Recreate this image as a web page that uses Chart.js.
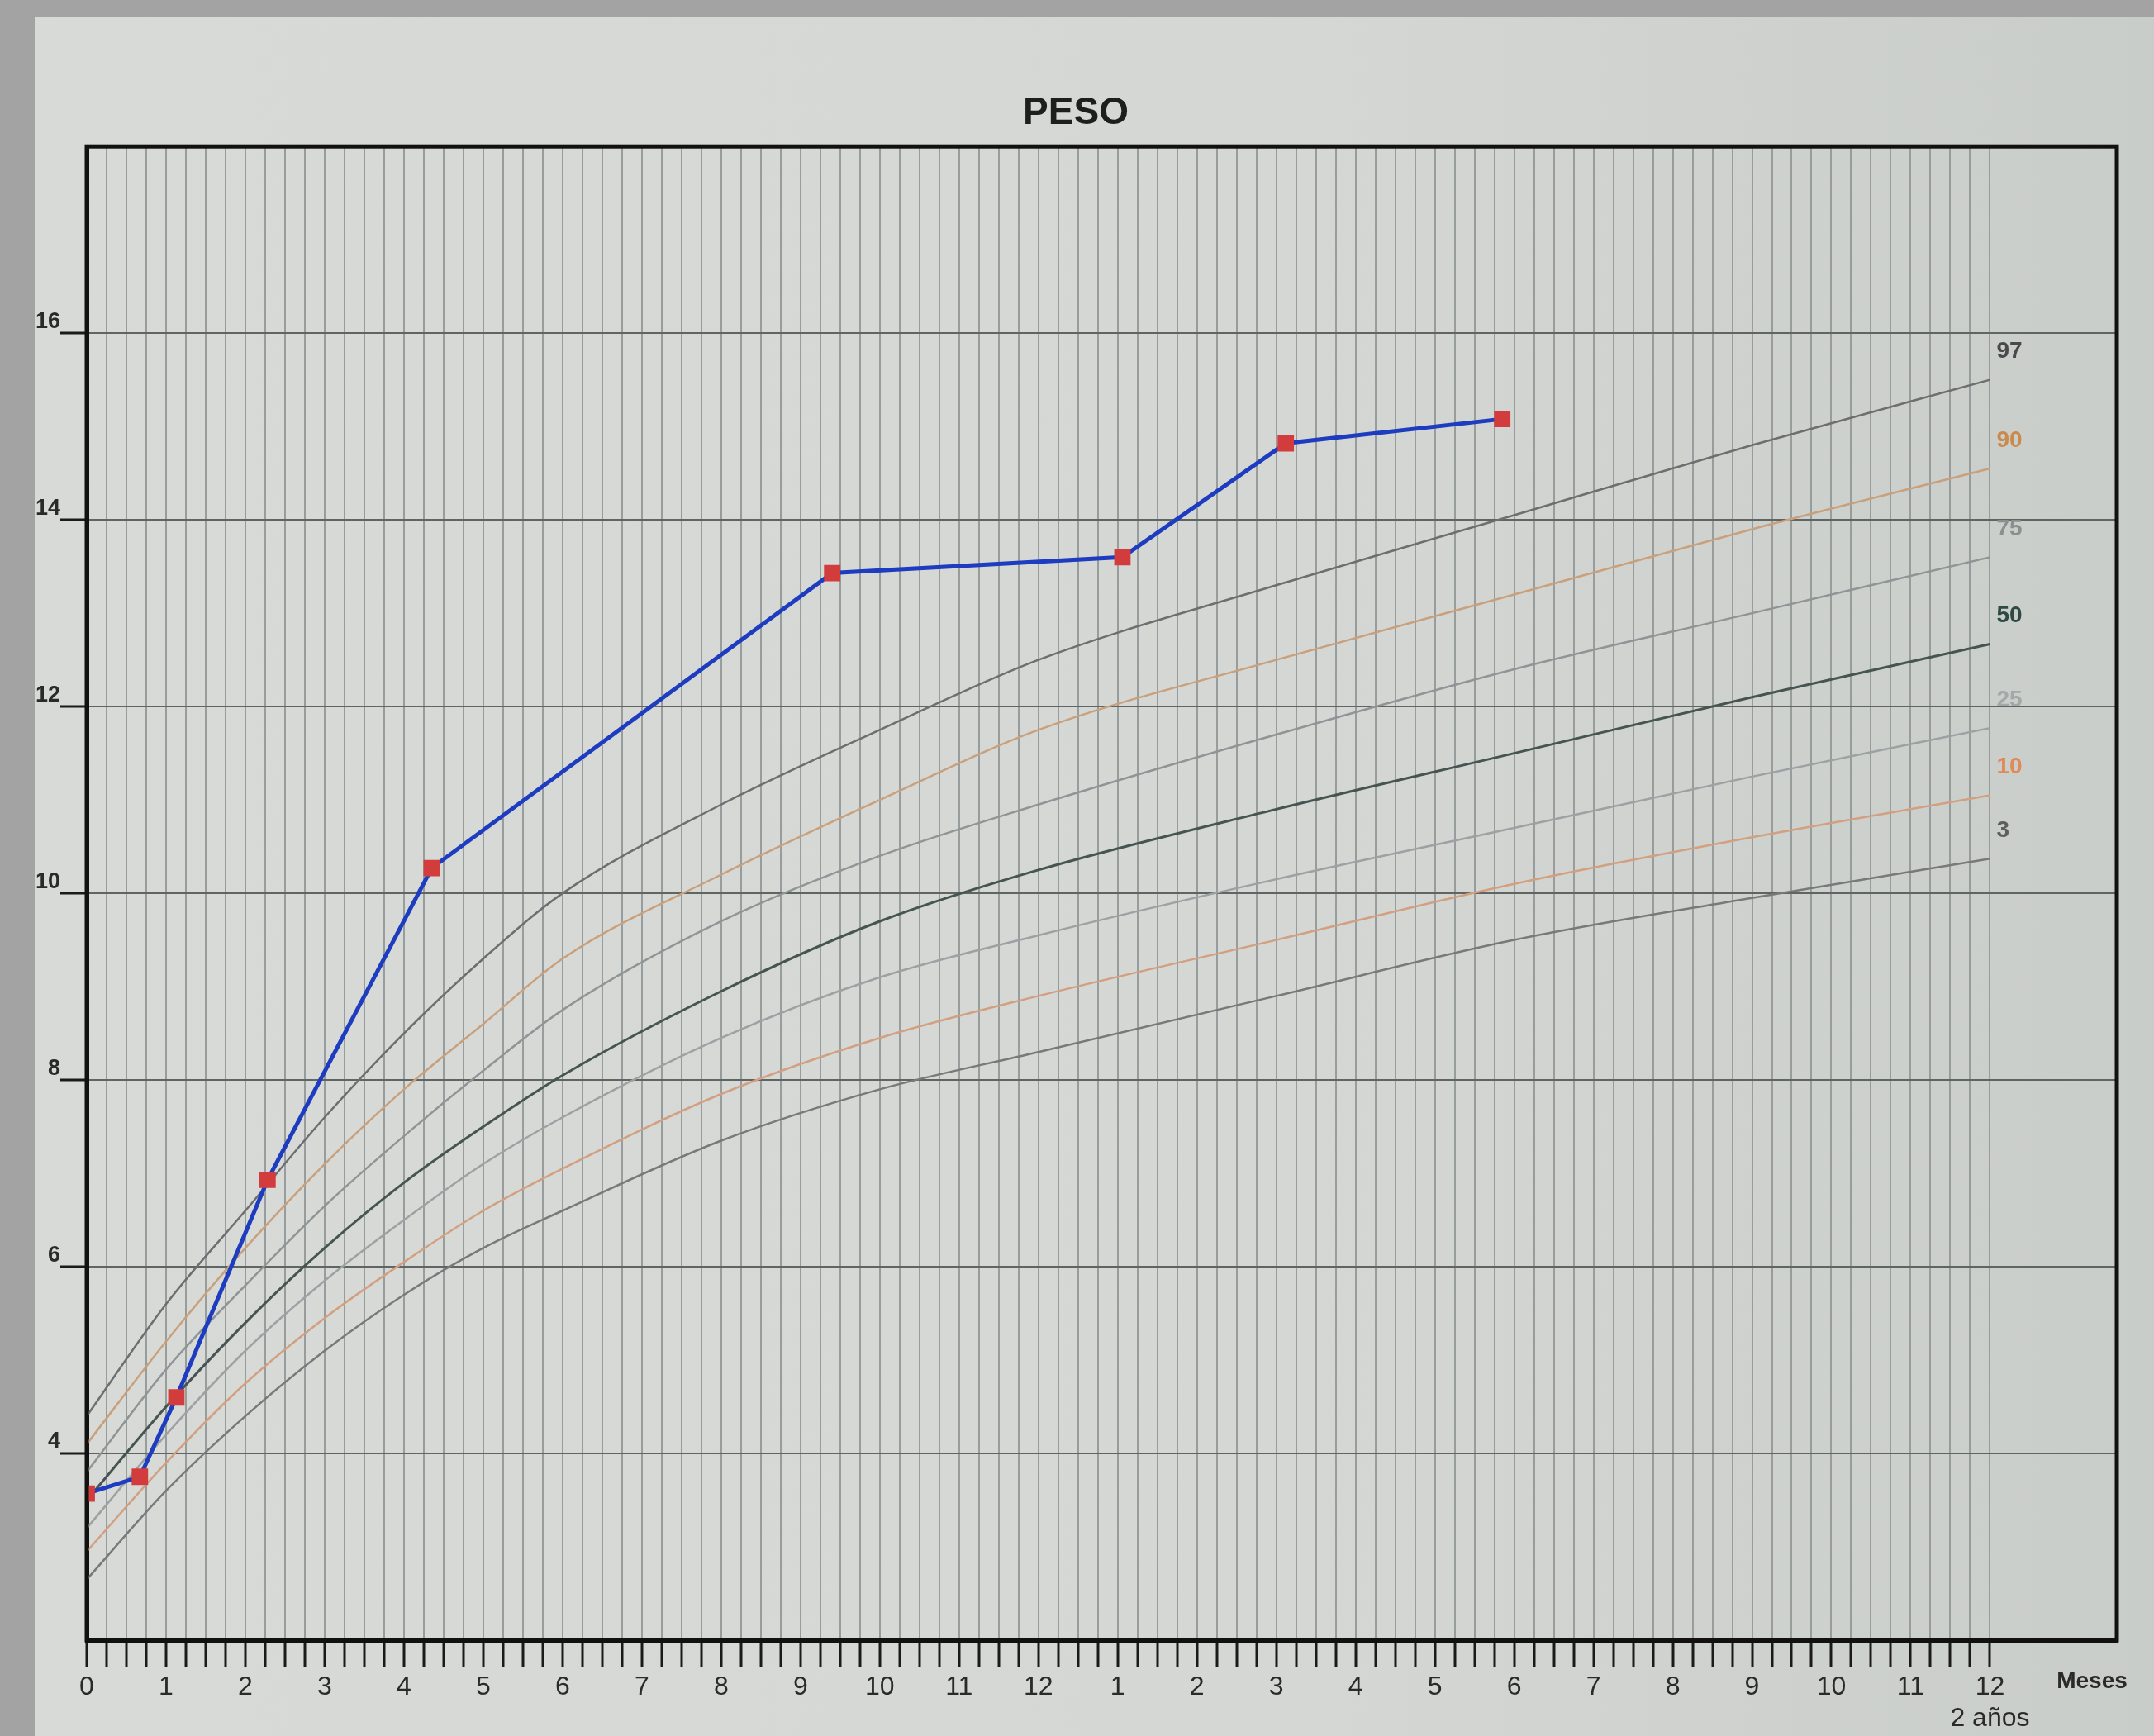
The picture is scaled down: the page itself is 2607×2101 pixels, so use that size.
<!DOCTYPE html>
<html lang="es">
<head>
<meta charset="utf-8">
<title>Peso</title>
<script src="https://cdn.jsdelivr.net/npm/chart.js@4.4.1/dist/chart.umd.min.js"></script>
<style>
  html, body { margin: 0; padding: 0; background: #a3a3a3; width: 2607px; height: 2101px; overflow: hidden; }
  #hoja {
    position: absolute; left: 42px; top: 20px; width: 2565px; height: 2081px;
    background: linear-gradient(to right, #d7dad7, #d4d7d4 60%, #c9cdc9);
  }
  canvas { display: block; }
</style>
</head>
<body>
<div id="hoja"><canvas id="graficaPeso"></canvas></div>
<script>
// =============================================
// DATOS
// =============================================

// edad en meses para las curvas de percentiles
const meses = [0, 1, 2, 3, 4, 5, 6, 8, 10, 12, 15, 18, 21, 24];

// percentiles de peso (kg)
const p97 = [4.4, 5.6, 6.6, 7.6, 8.5, 9.3, 10.0, 10.95, 11.75, 12.5, 13.3, 14.05, 14.8, 15.5];
const p90 = [4.1, 5.2, 6.2, 7.1, 7.9, 8.6, 9.3, 10.2, 11.0, 11.75, 12.5, 13.2, 13.9, 14.55];
const p75 = [3.8, 4.9, 5.8, 6.65, 7.4, 8.1, 8.75, 9.7, 10.4, 10.95, 11.7, 12.4, 13.0, 13.6];
const p50 = [3.5, 4.5, 5.4, 6.2, 6.9, 7.5, 8.05, 8.95, 9.7, 10.25, 10.9, 11.5, 12.1, 12.67];
const p25 = [3.2, 4.2, 5.1, 5.85, 6.5, 7.1, 7.6, 8.45, 9.1, 9.55, 10.15, 10.7, 11.25, 11.77];
const p10 = [2.95, 3.9, 4.75, 5.45, 6.05, 6.6, 7.05, 7.85, 8.45, 8.9, 9.5, 10.1, 10.6, 11.05];
const p3 = [2.65, 3.6, 4.4, 5.1, 5.7, 6.2, 6.6, 7.35, 7.9, 8.3, 8.9, 9.5, 9.95, 10.37];

// mediciones del paciente
const edadPaciente = [0, 0.67, 1.13, 2.28, 4.35, 9.4, 13.06, 15.12, 17.85];
const pesoPaciente = [3.57, 3.75, 4.6, 6.93, 10.27, 13.43, 13.6, 14.82, 15.08];

// etiquetas
const etiquetasMeses = ["0", "1", "2", "3", "4", "5", "6", "7", "8", "9", "10", "11", "12",
  "1", "2", "3", "4", "5", "6", "7", "8", "9", "10", "11", "12"];
const etiquetaAnios = "2 años";
const etiquetasPeso = [4, 6, 8, 10, 12, 14, 16];
const nombresPercentil = ["97", "90", "75", "50", "25", "10", "3"];
const curvasPercentil = [p97, p90, p75, p50, p25, p10, p3];
const coloresCurva = ["#6c6e70", "#c9a07c", "#8f9597", "#465552", "#9ca1a3", "#d2a080", "#77797b"];
const coloresEtiqueta = ["#4a4a4c", "#c98a4c", "#8a9090", "#2e4a44", "#a4a8a8", "#e08a5a", "#5e5e60"];

const FUENTE = "'Liberation Sans', Arial, sans-serif";

function puntos(xs, ys) {
  return xs.map((x, i) => ({ x: x, y: ys[i] }));
}

// =============================================
// MARCO, ETIQUETAS DE PERCENTIL Y "MESES"
// =============================================

const extrasGrafica = {
  id: "extrasGrafica",
  afterDraw(chart) {
    const c = chart.ctx;
    const a = chart.chartArea;
    const sx = chart.scales.x;
    const sy = chart.scales.y;

    // marco completo
    c.save();
    c.strokeStyle = "#111";
    c.lineWidth = 5;
    c.strokeRect(a.left, a.top, a.right - a.left, a.bottom - a.top);

    // etiquetas de percentil al final de cada curva
    c.font = "bold 28px " + FUENTE;
    c.textAlign = "left";
    c.textBaseline = "middle";
    curvasPercentil.forEach((curva, i) => {
      const ultimo = curva[curva.length - 1];
      c.fillStyle = coloresEtiqueta[i];
      c.fillText(nombresPercentil[i], sx.getPixelForValue(24) + 8, sy.getPixelForValue(ultimo) - 34);
    });

    // "Meses"
    c.font = "bold 28px " + FUENTE;
    c.fillStyle = "#2a2a2a";
    c.textAlign = "center";
    c.fillText("Meses", a.right - 30, sx.top + 50);
    c.restore();
  },
};

// =============================================
// GRÁFICA
// =============================================

const datasets = [
  {
    label: "Paciente",
    data: puntos(edadPaciente, pesoPaciente),
    borderColor: "#1d3cc0",
    borderWidth: 5,
    pointStyle: "rect",
    pointRadius: 14,
    pointBackgroundColor: "#d23c3c",
    pointBorderColor: "#d23c3c",
    pointBorderWidth: 0,
    tension: 0,
    order: 0,
  },
];

curvasPercentil.forEach((curva, i) => {
  datasets.push({
    label: "P" + nombresPercentil[i],
    data: puntos(meses, curva),
    borderColor: coloresCurva[i],
    borderWidth: i === 3 ? 3 : 2.5,
    pointRadius: 0,
    cubicInterpolationMode: "monotone",
    order: 1,
  });
});

const ctx = document.getElementById("graficaPeso").getContext("2d");
new Chart(ctx, {
  type: "line",
  data: { datasets: datasets },
  plugins: [extrasGrafica],
  options: {
    responsive: true,
    maintainAspectRatio: false,
    animation: false,
    devicePixelRatio: 1,
    layout: { padding: { right: 45, left: 0, bottom: 0 } },
    plugins: {
      legend: { display: false },
      tooltip: { enabled: false },
      title: {
        display: true,
        text: "PESO",
        color: "#1e1e1e",
        font: { family: FUENTE, size: 46, weight: "bold" },
        padding: { top: 90, bottom: 12 },
      },
    },
    scales: {
      x: {
        type: "linear",
        min: 0,
        max: 25.6,
        afterFit: (s) => { s.height = 116; },
        border: { color: "#111", width: 5 },
        grid: {
          color: (c) => (c.tick && c.tick.value > 0.01 && c.tick.value <= 24.01 ? "#969d9c" : "rgba(0,0,0,0)"),
          lineWidth: 2,
          drawTicks: true,
          tickLength: 32,
          tickWidth: 3,
          tickColor: (c) => (c.tick && c.tick.value <= 24.01 ? "#1a1a1a" : "rgba(0,0,0,0)"),
        },
        ticks: {
          stepSize: 0.25,
          autoSkip: false,
          maxTicksLimit: 200,
          maxRotation: 0,
          padding: 6,
          color: "#2a2a2a",
          font: { family: FUENTE, size: 32 },
          callback: function (v) {
            if (Math.abs(v - Math.round(v)) > 1e-6 || v > 24.01) return "";
            const m = Math.round(v);
            if (m === 24) return [etiquetasMeses[m], etiquetaAnios];
            return etiquetasMeses[m];
          },
        },
      },
      y: {
        type: "linear",
        min: 2,
        max: 18,
        afterFit: (s) => { s.width = 63; },
        border: { color: "#111", width: 5 },
        grid: {
          color: (c) => (c.tick && c.tick.value > 2 && c.tick.value < 18 ? "#5e6562" : "rgba(0,0,0,0)"),
          lineWidth: 2,
          drawTicks: true,
          tickLength: 32,
          tickWidth: 3,
          tickColor: (c) => (c.tick && etiquetasPeso.includes(c.tick.value) ? "#1a1a1a" : "rgba(0,0,0,0)"),
        },
        ticks: {
          stepSize: 2,
          padding: 0,
          labelOffset: -14,
          color: "#2a2a2a",
          font: { family: FUENTE, size: 27, weight: "bold" },
          callback: function (v) {
            return etiquetasPeso.includes(v) ? String(v) : "";
          },
        },
      },
    },
  },
});
</script>
</body>
</html>
